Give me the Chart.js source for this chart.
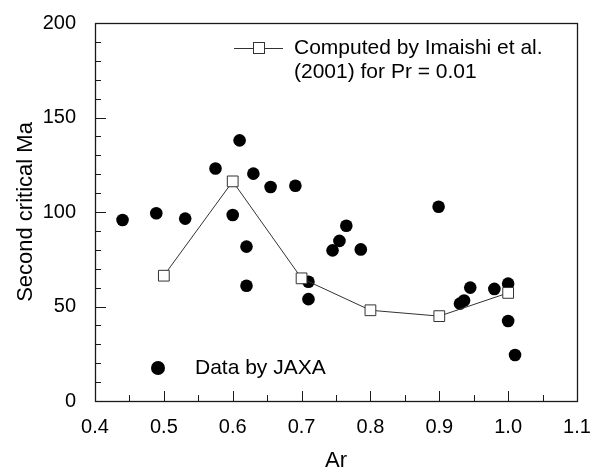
<!DOCTYPE html>
<html><head><meta charset="utf-8">
<script src="https://cdn.jsdelivr.net/npm/chart.js@4/dist/chart.umd.min.js"></script>
<style>html,body{margin:0;padding:0;background:#fff;}</style>
</head><body>
<canvas id="c" width="600" height="474"></canvas>
<script>
// ---- data ----
const jaxaAr = [0.440, 0.489, 0.531, 0.575, 0.610, 0.630, 0.655, 0.691, 0.600, 0.620, 0.620, 0.710, 0.710, 0.745, 0.755, 0.765, 0.786, 0.899, 0.930, 0.936, 0.945, 0.980, 1.000, 1.000, 1.010];
const jaxaMa = [95.8, 99.3, 96.5, 123.0, 137.9, 120.3, 113.2, 113.9, 98.4, 81.7, 61.0, 63.1, 53.9, 79.7, 84.7, 92.7, 80.2, 102.8, 51.5, 53.2, 60.0, 59.3, 62.1, 42.3, 24.3];
const imaishiAr = [0.5, 0.6, 0.7, 0.8, 0.9, 1.0];
const imaishiMa = [66.3, 116.2, 64.9, 48.0, 44.9, 57.2];
const xTickValues = [0.4, 0.5, 0.6, 0.7, 0.8, 0.9, 1.0, 1.1];
const yTickValues = [0, 50, 100, 150, 200];
const imaishiLabel = ["Computed by Imaishi et al.", "(2001) for Pr = 0.01"];
const jaxaLabel = "Data by JAXA";
const xTitle = "Ar";
const yTitle = "Second critical Ma";

const FONT = "'Liberation Sans', Arial, Helvetica, sans-serif";
Chart.defaults.font.family = FONT;
Chart.defaults.color = '#000';

const framePlugin = {
  id: 'frame',
  afterDatasetsDraw(chart) {
    const {ctx, chartArea: a, scales: {x, y}} = chart;
    ctx.save();
    ctx.strokeStyle = '#1a1a1a';
    ctx.lineWidth = 1;
    ctx.beginPath();
    // y ticks (inward), minor every 10
    for (let i = 0; i <= 20; i++) {
      const v = i * 10;
      const py = Math.round(y.getPixelForValue(v)) + 0.5;
      const len = (i % 5 === 0) ? 11 : 6;
      ctx.moveTo(a.left, py); ctx.lineTo(a.left + len, py);
    }
    // x ticks (inward), minor every 0.05
    for (let i = 0; i <= 14; i++) {
      const v = 0.4 + i * 0.05;
      const px = Math.round(x.getPixelForValue(v)) + 0.5;
      const len = (i % 2 === 0) ? 10 : 6;
      ctx.moveTo(px, a.bottom); ctx.lineTo(px, a.bottom - len);
    }
    ctx.stroke();
    // frame
    ctx.lineWidth = 1.3;
    ctx.strokeRect(Math.round(a.left) + 0.5, Math.round(a.top) + 0.5,
                   Math.round(a.right) - Math.round(a.left), Math.round(a.bottom) - Math.round(a.top));

    // legend: Imaishi
    ctx.strokeStyle = '#333';
    ctx.lineWidth = 1;
    ctx.beginPath();
    ctx.moveTo(234, 48.5); ctx.lineTo(283, 48.5);
    ctx.stroke();
    ctx.fillStyle = '#fff';
    ctx.fillRect(253.5, 42.5, 11, 11);
    ctx.strokeRect(253.5, 42.5, 11, 11);
    ctx.fillStyle = '#000';
    ctx.font = "21px " + FONT;
    ctx.textAlign = 'left';
    ctx.textBaseline = 'middle';
    ctx.fillText(imaishiLabel[0], 294, 48);
    ctx.fillText(imaishiLabel[1], 294, 72);
    // legend: JAXA
    ctx.beginPath();
    ctx.arc(158, 368, 7, 0, Math.PI * 2);
    ctx.fill();
    ctx.fillText(jaxaLabel, 195, 368);
    ctx.restore();
  }
};

new Chart(document.getElementById('c'), {
  type: 'scatter',
  data: {
    datasets: [
      {
        label: imaishiLabel.join(' '),
        data: imaishiAr.map((v, i) => ({x: v, y: imaishiMa[i]})),
        showLine: true,
        tension: 0,
        borderColor: '#333',
        borderWidth: 1,
        pointStyle: 'rect',
        pointRadius: 7.6,
        pointBackgroundColor: '#fff',
        pointBorderColor: '#333',
        pointBorderWidth: 1,
        order: 0
      },
      {
        label: jaxaLabel,
        data: jaxaAr.map((v, i) => ({x: v, y: jaxaMa[i]})),
        showLine: false,
        pointStyle: 'circle',
        pointRadius: 6.3,
        pointBackgroundColor: '#000',
        pointBorderColor: '#000',
        pointBorderWidth: 0,
        order: 1
      }
    ]
  },
  options: {
    responsive: false,
    animation: false,
    devicePixelRatio: 1,
    layout: {padding: {left: 0, right: 23, top: 18, bottom: 0}},
    plugins: {legend: {display: false}, tooltip: {enabled: false}},
    scales: {
      x: {
        type: 'linear',
        min: 0.4, max: 1.1,
        afterBuildTicks: (s) => { s.ticks = xTickValues.map(v => ({value: v})); },
        afterFit: (s) => { s.height = 73; },
        grid: {display: false},
        border: {display: false},
        ticks: {
          font: {size: 20},
          color: '#000',
          padding: 6,
          maxRotation: 0,
          autoSkip: false,
          callback: (v) => Number(v).toFixed(1)
        },
        title: {display: true, text: xTitle, font: {size: 22}, color: '#000', padding: {top: 0, bottom: 0}}
      },
      y: {
        type: 'linear',
        min: 0, max: 200,
        afterBuildTicks: (s) => { s.ticks = yTickValues.map(v => ({value: v})); },
        afterFit: (s) => { s.width = 95; },
        grid: {display: false},
        border: {display: false},
        ticks: {
          font: {size: 20},
          color: '#000',
          padding: 11,
          autoSkip: false,
          callback: (v) => String(v)
        },
        title: {display: true, text: yTitle, font: {size: 22}, color: '#000', padding: {top: 13, bottom: 0}}
      }
    }
  },
  plugins: [framePlugin]
});
</script>
</body></html>
